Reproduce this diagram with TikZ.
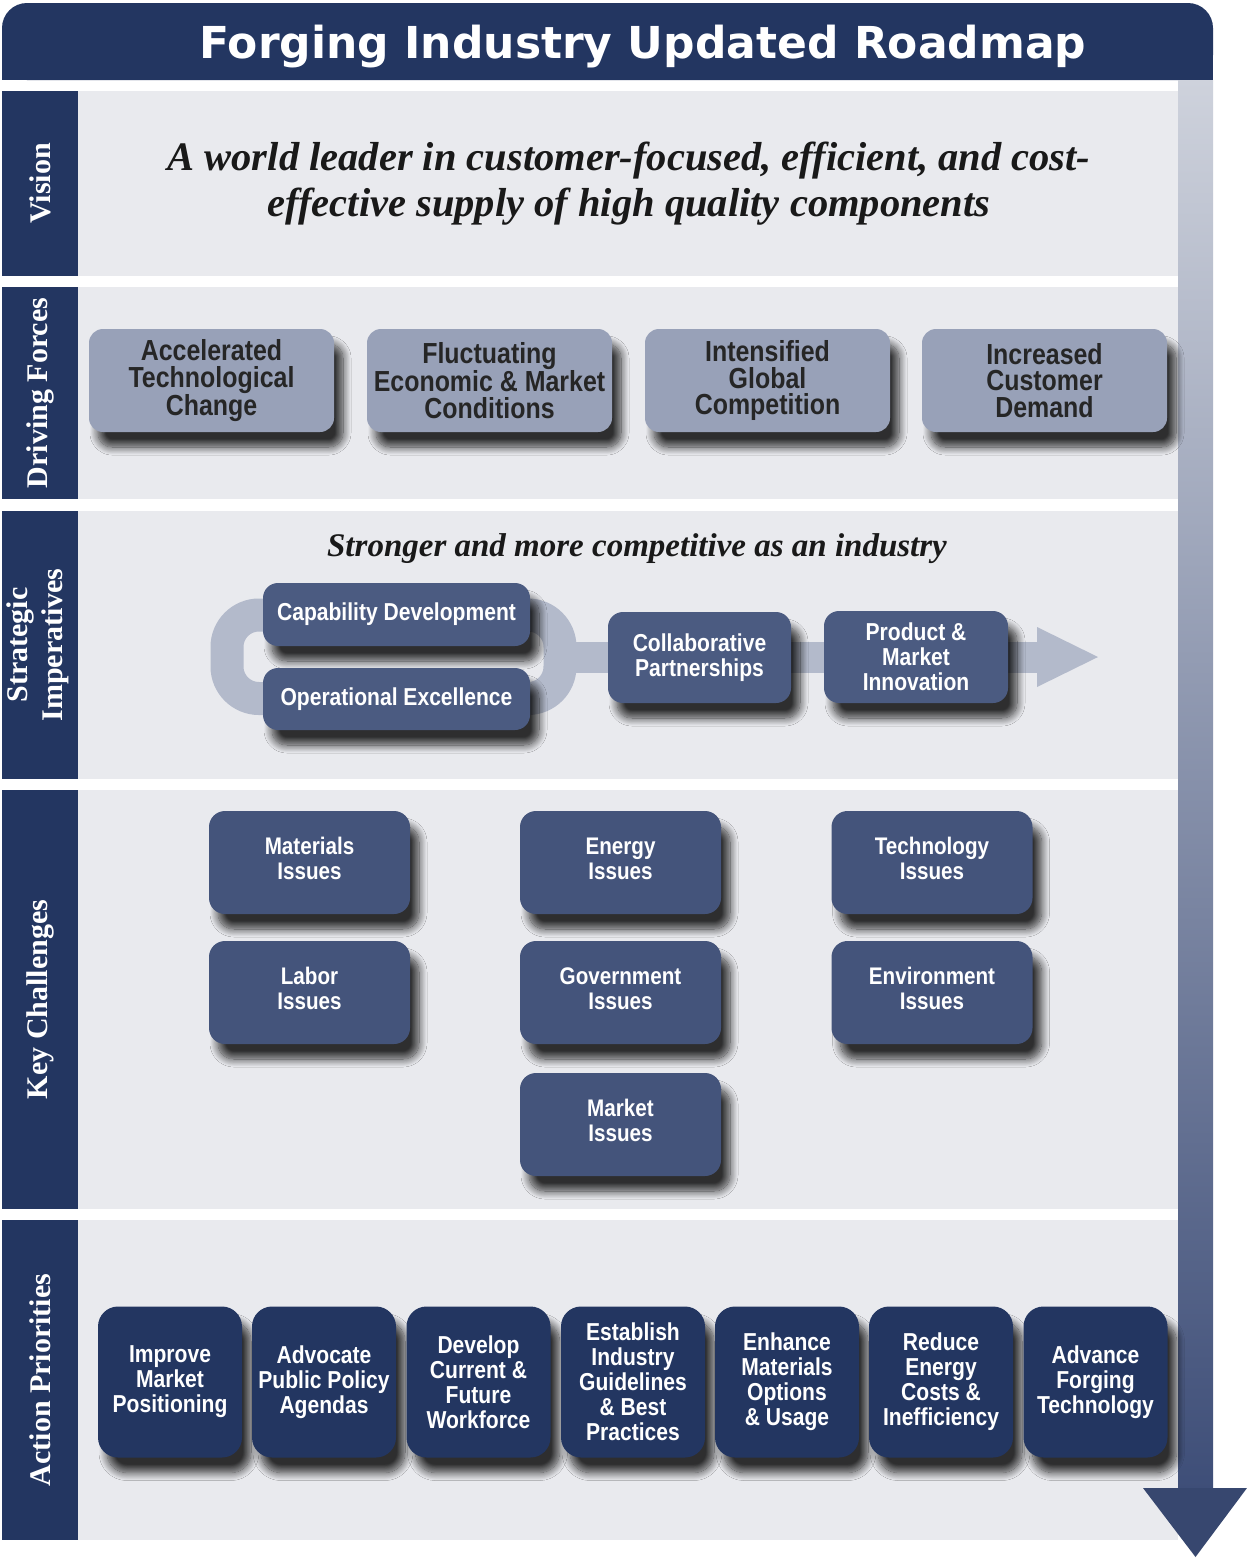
\documentclass[tikz,border=0pt]{standalone}
\usepackage{fontspec}
\setmainfont{Liberation Serif}
\newfontfamily\titlefont{DejaVu Sans}
\newfontfamily\boxfont[FakeStretch=0.86]{Liberation Sans}
\usetikzlibrary{shadows.blur}

\definecolor{navy}{HTML}{233661}
\definecolor{secgrey}{HTML}{E9EAEE}
\definecolor{dfgrey}{HTML}{98A1B8}
\definecolor{sislate}{HTML}{4B5B81}
\definecolor{kcslate}{HTML}{44547B}
\definecolor{ringc}{HTML}{B3BACB}
\definecolor{barTop}{HTML}{CED2DC}
\definecolor{barMid}{HTML}{8F98B1}
\definecolor{barBot}{HTML}{3E4E78}
\definecolor{arrowNavy}{HTML}{37476F}
\definecolor{dftext}{HTML}{262626}

\tikzset{
  boxshadow/.style={blur shadow={shadow xshift=9pt, shadow yshift=-15pt,
      shadow blur radius=8pt, shadow opacity=80, shadow blur steps=14}},
  sidelabel/.style={text=white, rotate=90, align=center,
      font=\bfseries\fontsize{30}{35}\selectfont},
  headtext/.style={text=white, font=\titlefont\bfseries\fontsize{44}{50}\selectfont},
  statement/.style={align=center, text=black!90,
      font=\bfseries\itshape\fontsize{40.5}{46}\selectfont},
  dfbox/.style={boxshadow, fill=dfgrey, rounded corners=14, align=center,
      minimum width=245, minimum height=103, inner sep=0pt, text=dftext,
      font=\boxfont\bfseries\fontsize{29}{26.5}\selectfont},
  sibox/.style={boxshadow, fill=sislate, rounded corners=15, align=center,
      inner sep=0pt, text=white,
      font=\boxfont\bfseries\fontsize{24.5}{25}\selectfont},
  kcbox/.style={boxshadow, fill=kcslate, rounded corners=16, align=center,
      minimum width=201, minimum height=103, inner sep=0pt, text depth=8pt,
      text=white, font=\boxfont\bfseries\fontsize{24}{25.5}\selectfont},
  apbox/.style={boxshadow, fill=navy, rounded corners=20, align=center,
      minimum width=144, minimum height=151, inner sep=0pt, text=white,
      font=\boxfont\bfseries\fontsize{24.5}{25}\selectfont},
}

\begin{document}
\begin{tikzpicture}[x=1pt,y=-1pt]
\useasboundingbox (0,0) rectangle (1247,1558);
\fill[white] (0,0) rectangle (1247,1558);

% title banner, rounded on top only
\fill[navy, rounded corners=25] (2,3) rectangle (1213,80);
\fill[navy] (2,50) rectangle (1213,80);
\node[headtext] (title) at (643,47) {Forging Industry Updated Roadmap};

% section bands with their side labels
\foreach \top/\bot in {91/276, 287/499, 511/779, 790/1209, 1220/1540} {
  \fill[secgrey] (78,\top) rectangle (1178,\bot);
  \fill[navy] (2,\top) rectangle (78,\bot);
}
\node[sidelabel] (lvis) at (40,183.5) {Vision};
\node[sidelabel] (ldf) at (40,393) {Driving Forces};
\node[sidelabel] (lsi) at (38,645) {Strategic\\Imperatives};
\node[sidelabel] (lkc) at (40,999.5) {Key Challenges};
\node[sidelabel] (lap) at (40,1380) {Action Priorities};

% progression bar down the right side
\shade[top color=barTop, middle color=barMid, bottom color=barBot]
  (1178,80) rectangle (1213,1490);
\coordinate (downL) at (1143,1488);
\coordinate (downR) at (1247,1488);
\coordinate (downTip) at (1195.5,1557);
\fill[arrowNavy] (downL) -- (downR) -- (downTip) -- cycle;

% vision
\node[statement] (vision) at (629,184)
  {A world leader in customer-focused, efficient, and cost-\\effective supply of high quality components};

% driving forces
\node[dfbox] (df1) at (211.5,380.5) {Accelerated\\Technological\\Change};
\node[dfbox] (df2) at (489.5,380.5) {Fluctuating\\Economic \& Market\\Conditions};
\node[dfbox] (df3) at (767.5,380.5) {Intensified\\Global\\Competition};
\node[dfbox] (df4) at (1044.5,380.5) {Increased\\Customer\\Demand};

% strategic imperatives
\node[statement, font=\bfseries\itshape\fontsize{33}{38}\selectfont] (goal) at (637,549)
  {Stronger and more competitive as an industry};
\coordinate (loopE) at (560,657);
\coordinate (headBase) at (1037,657);
\coordinate (headTop) at (1037,627);
\coordinate (headBot) at (1037,687);
\coordinate (headTip) at (1098,657);
\draw[ringc, line width=33, rounded corners=32] (227,615) rectangle (560,698.5);
\draw[ringc, line width=31] (loopE) -- (headBase);
\fill[ringc] (headTop) -- (headTip) -- (headBot) -- cycle;

\node[sibox, minimum width=267, minimum height=63] (cap) at (396.5,614.5) {Capability Development};
\node[sibox, minimum width=267, minimum height=62] (opx) at (396.5,699) {Operational Excellence};
\node[sibox, minimum width=183, minimum height=91] (collab) at (699.5,657.5) {Collaborative\\Partnerships};
\node[sibox, minimum width=184, minimum height=92] (prod) at (916,657) {Product \&\\Market\\Innovation};

% key challenges
\node[kcbox] (kmat) at (309.5,862.5) {Materials\\Issues};
\node[kcbox] (keng) at (620.5,862.5) {Energy\\Issues};
\node[kcbox] (ktec) at (932,862.5) {Technology\\Issues};
\node[kcbox] (klab) at (309.5,992.5) {Labor\\Issues};
\node[kcbox] (kgov) at (620.5,992.5) {Government\\Issues};
\node[kcbox] (kenv) at (932,992.5) {Environment\\Issues};
\node[kcbox] (kmkt) at (620.5,1124.5) {Market\\Issues};

% action priorities
\node[apbox] (a1) at (170,1382) {Improve\\Market\\Positioning};
\node[apbox] (a2) at (324,1382) {Advocate\\Public Policy\\Agendas};
\node[apbox] (a3) at (478.5,1382) {Develop\\Current \&\\Future\\Workforce};
\node[apbox] (a4) at (633,1382) {Establish\\Industry\\Guidelines\\\& Best\\Practices};
\node[apbox] (a5) at (787,1382) {Enhance\\Materials\\Options\\\& Usage};
\node[apbox] (a6) at (941,1382) {Reduce\\Energy\\Costs \&\\Inefficiency};
\node[apbox] (a7) at (1095.5,1382) {Advance\\Forging\\Technology};
\end{tikzpicture}
\end{document}
